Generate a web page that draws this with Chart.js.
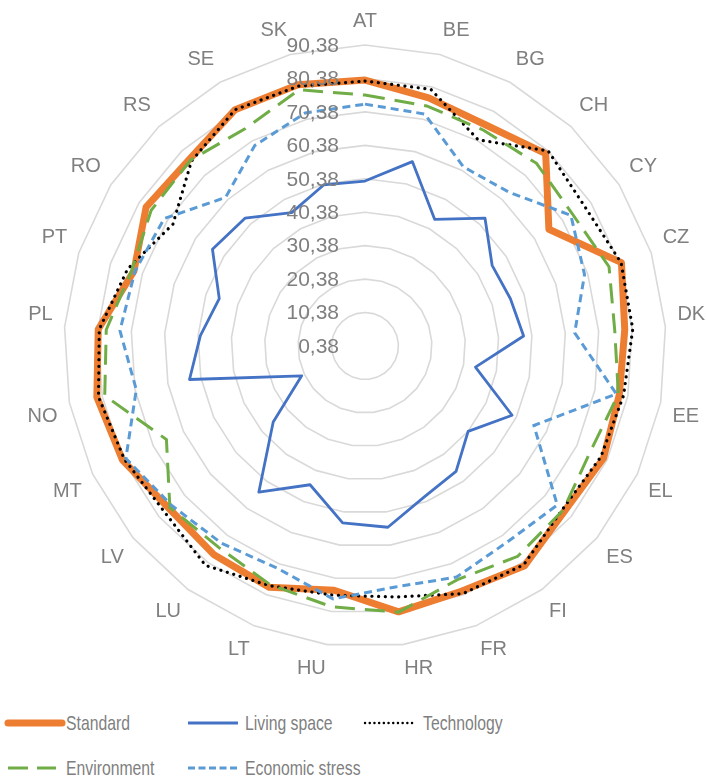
<!DOCTYPE html>
<html>
<head>
<meta charset="utf-8">
<script src="https://cdn.jsdelivr.net/npm/chart.js@4.4.1/dist/chart.umd.min.js"></script>
<style>
  html, body { margin: 0; background: #fff; overflow: hidden; }
  #wrap { position: relative; width: 706px; height: 783px; overflow: hidden; }
  #box { position: absolute; left: 21px; top: 0; width: 692px; height: 686px; }
  .lg { position: absolute; font-family: "Liberation Sans", sans-serif; font-size: 21px; color: #7f7f7f;
    line-height: 22px; white-space: nowrap; transform-origin: 0 50%; }
  .lg svg { position: absolute; }
</style>
</head>
<body>
<div id="wrap">
  <div id="box"><canvas id="radarChart"></canvas></div>
  <div id="legend"></div>
</div>
<script>
// categories (countries)
const countries = ['AT', 'BE', 'BG', 'CH', 'CY', 'CZ', 'DK', 'EE', 'EL', 'ES', 'FI', 'FR', 'HR',
  'HU', 'LT', 'LU', 'LV', 'MT', 'NO', 'PL', 'PT', 'RO', 'RS', 'SE', 'SK']

// values per series
const standard = [79.9, 77, 75.7, 79.3, 65.5, 81, 78.2, 77.8, 79.2, 77.8, 81.6, 79.2, 80.5,
  74, 78, 77.4, 76.5, 80.5, 82, 80.3, 73, 77.9, 77, 81, 81]
const livingSpace = [49.7, 57.3, 43.6, 52.8, 45.4, 46.1, 47.9, 34, 49, 40.4, 46.7, 48.8, 55,
  53.7, 45, 54.4, 36, 21.3, 53.8, 49.7, 46.2, 54.4, 52.8, 45.9, 50.1]
const technology = [79.6, 79.6, 70.7, 80.4, 78.2, 80.9, 80.6, 79.1, 78.3, 77, 81.2, 80, 76,
  75.5, 77.5, 81.5, 78.2, 79.9, 81.5, 80, 75, 68.4, 76.2, 81, 80.6]
const environment = [75.4, 74.5, 74, 75.3, 73.9, 77.1, 75.2, 77.5, 74.8, 77.3, 78.1, 75.5, 80.6,
  79, 77.2, 74.8, 76.1, 66, 79.6, 77.9, 73.7, 76.1, 76.6, 74.6, 79.5]
const economicStress = [72.7, 72, 61.5, 63.4, 73.3, 69.4, 63.2, 76.9, 56.2, 75, 72.8, 74.7, 73,
  76.6, 71.8, 73.3, 75.3, 79.4, 70, 73.8, 72.7, 71.5, 61.3, 68.8, 72.3]

// radial axis ticks
const tickValues = [0.38, 10.38, 20.38, 30.38, 40.38, 50.38, 60.38, 70.38, 80.38, 90.38]

const seriesNames = ['Standard', 'Living space', 'Technology', 'Environment', 'Economic stress']

const grey = '#7f7f7f'

// tick labels drawn left of the vertical axis, like excel does it
const tickLabelPlugin = {
  id: 'tickLabels',
  afterDatasetsDraw(chart) {
    const r = chart.scales.r
    const ctx = chart.ctx
    ctx.save()
    ctx.font = '21px "Liberation Sans", sans-serif'
    ctx.fillStyle = grey
    ctx.textAlign = 'right'
    ctx.textBaseline = 'middle'
    tickValues.forEach(v => {
      const d = r.getDistanceFromCenterForValue(v)
      ctx.fillText(v.toFixed(2).replace('.', ','), r.xCenter - 26, r.yCenter - d + 1)
    })
    ctx.restore()
  }
}

const ctx = document.getElementById('radarChart').getContext('2d')

new Chart(ctx, {
  type: 'radar',
  data: {
    labels: countries,
    datasets: [
      {
        label: seriesNames[0], data: standard, borderColor: '#ED7D31', borderWidth: 7,
        borderJoinStyle: 'round', order: 5
      },
      {
        label: seriesNames[1], data: livingSpace, borderColor: '#4472C4', borderWidth: 2.8,
        borderJoinStyle: 'round', order: 4
      },
      {
        label: seriesNames[2], data: technology, borderColor: '#000000', borderWidth: 3.2,
        borderDash: [0.1, 6.6], borderCapStyle: 'round', order: 3
      },
      {
        label: seriesNames[3], data: environment, borderColor: '#70AD47', borderWidth: 3,
        borderDash: [20, 10], order: 2
      },
      {
        label: seriesNames[4], data: economicStress, borderColor: '#5B9BD5', borderWidth: 3,
        borderDash: [8, 5], order: 1
      }
    ]
  },
  options: {
    responsive: true,
    maintainAspectRatio: false,
    animation: false,
    layout: { padding: { top: 8, bottom: 4, left: 0, right: 0 } },
    elements: {
      point: { radius: 0, hoverRadius: 0 },
      line: { fill: false, tension: 0 }
    },
    plugins: {
      legend: { display: false },
      tooltip: { enabled: false }
    },
    scales: {
      r: {
        min: 0.38,
        max: 90.38,
        afterBuildTicks: (scale) => {
          scale.ticks = tickValues.map(v => ({ value: v }))
        },
        ticks: { display: false },
        grid: { color: '#d9d9d9', lineWidth: 1.6 },
        angleLines: { display: false },
        pointLabels: {
          color: grey,
          padding: 12,
          font: { family: '"Liberation Sans", sans-serif', size: 20 }
        }
      }
    }
  },
  plugins: [tickLabelPlugin]
})

// custom legend under the chart (two rows, excel style)
const legendItems = [
  { x: 8, y: 723, w: 54, color: '#ED7D31', width: 7, dash: '', cap: 'round', tx: 66 },
  { x: 188, y: 723, w: 50, color: '#4472C4', width: 3, dash: '', cap: 'butt', tx: 245 },
  { x: 365, y: 723, w: 48, color: '#000000', width: 2.4, dash: '0.1 4.6', cap: 'round', tx: 423 },
  { x: 8, y: 768, w: 48, color: '#70AD47', width: 3, dash: '20 9', cap: 'butt', tx: 66 },
  { x: 188, y: 768, w: 50, color: '#5B9BD5', width: 3, dash: '7 3.5', cap: 'butt', tx: 245 }
]
const legendEl = document.getElementById('legend')
legendItems.forEach((it, i) => {
  const sw = document.createElement('div')
  sw.className = 'lg'
  sw.style.left = it.x + 'px'
  sw.style.top = (it.y - 6) + 'px'
  sw.innerHTML = '<svg width="' + (it.w + 8) + '" height="12" style="left:-4px;top:0">' +
    '<line x1="4" y1="6" x2="' + (it.w + 4) + '" y2="6" stroke="' + it.color + '" stroke-width="' + it.width +
    '" stroke-dasharray="' + it.dash + '" stroke-linecap="' + it.cap + '"/></svg>'
  legendEl.appendChild(sw)
  const tx = document.createElement('div')
  tx.className = 'lg'
  tx.style.left = it.tx + 'px'
  tx.style.top = (it.y - 11) + 'px'
  tx.style.transform = 'scaleX(0.75)'
  tx.textContent = seriesNames[i]
  legendEl.appendChild(tx)
})
</script>
</body>
</html>
